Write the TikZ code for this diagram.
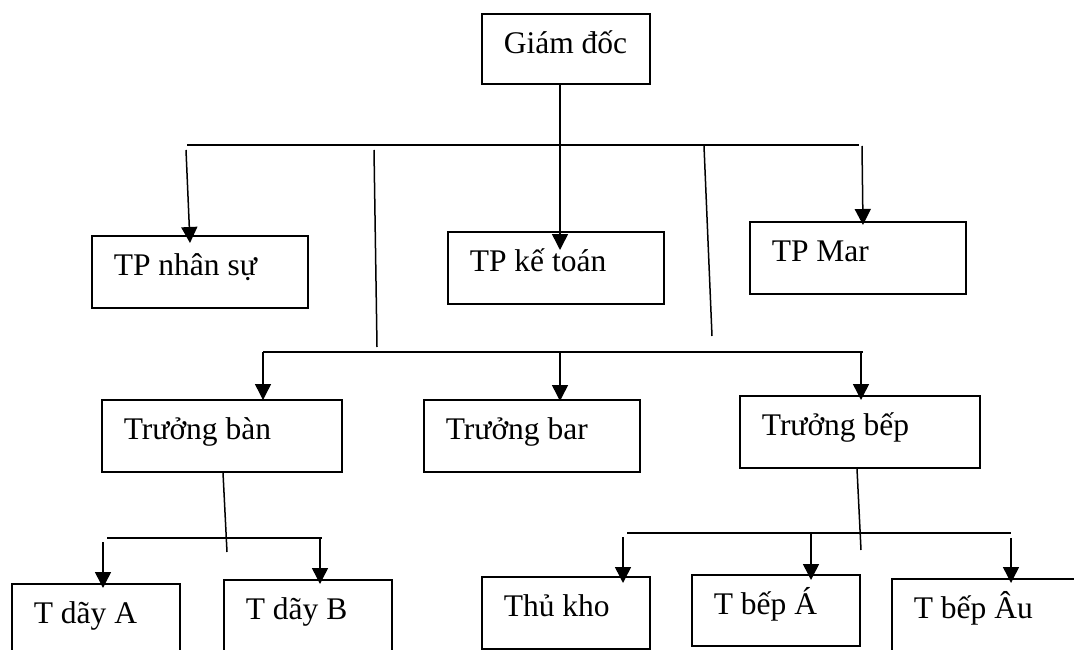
\documentclass[tikz,border=0pt]{standalone}
\usepackage{fontspec}
\setmainfont{Liberation Serif}
\usetikzlibrary{arrows.meta}
\newcommand\boxtxt[2]{\makebox[#1][l]{#2}}
\tikzset{
  box/.style={draw, line width=1.7pt, anchor=north west, inner xsep=22pt, inner ysep=0pt,
    text height=40pt, font=\fontsize{31.5}{37}\selectfont},
  wire/.style={line width=1.5pt},
  arr/.style={line width=1.5pt, -{Triangle[length=16pt,width=16pt]}}
}
\begin{document}
\begin{tikzpicture}[x=1pt,y=-1pt]
\clip (0,0) rectangle (1074,650);
\fill[white] (0,0) rectangle (1074,650);
% boxes
\node[box, text depth=30pt] (gd) at (481,13) {\boxtxt{124pt}{Giám đốc}};
\node[box, text depth=32pt] (ns) at (91,235) {\boxtxt{172pt}{TP nhân sự}};
\node[box, text depth=32pt] (kt) at (447,231) {\boxtxt{172pt}{TP kế toán}};
\node[box, text depth=32pt] (mar) at (749,221) {\boxtxt{172pt}{TP Mar}};
\node[box, text depth=32pt] (tban) at (101,399) {\boxtxt{196pt}{Trưởng bàn}};
\node[box, text depth=32pt] (tbar) at (423,399) {\boxtxt{172pt}{Trưởng bar}};
\node[box, text depth=32pt] (tbep) at (739,395) {\boxtxt{196pt}{Trưởng bếp}};
\node[box, text depth=60pt] (da) at (11,583) {\boxtxt{124pt}{T dãy A}};
\node[box, text depth=60pt] (db) at (223,579) {\boxtxt{124pt}{T dãy B}};
\node[box, text depth=32pt] (tk) at (481,576) {\boxtxt{124pt}{Thủ kho}};
\node[box, text depth=31pt] (ba) at (691,574) {\boxtxt{124pt}{T bếp Á}};
\node[box, text depth=60pt] (bau) at (891,578) {\boxtxt{176pt}{T bếp Âu}};
% coordinates
\coordinate (b1l) at (187,145);
\coordinate (b1r) at (859,145);
\coordinate (ktip) at (560,250);
\coordinate (nstop) at (186,150);
\coordinate (nstip) at (190,243);
\coordinate (martop) at (862,146);
\coordinate (martip) at (863,225);
\coordinate (v1t) at (374,150);
\coordinate (v1b) at (377,347);
\coordinate (v2t) at (704,146);
\coordinate (v2b) at (712,336);
\coordinate (b2l) at (263,352);
\coordinate (b2m) at (560,352);
\coordinate (b2r) at (863,352);
\coordinate (t1) at (263,400);
\coordinate (t2) at (560,401);
\coordinate (t3) at (861,400);
\coordinate (tbanb) at (227,552);
\coordinate (b3l) at (107,538);
\coordinate (b3r) at (322,538);
\coordinate (datop) at (103,542);
\coordinate (datip) at (103,588);
\coordinate (dbtip) at (320,584);
\coordinate (tbepb) at (861,550);
\coordinate (b4l) at (627,533);
\coordinate (b4r) at (1011,533);
\coordinate (tktop) at (623,537);
\coordinate (tktip) at (623,583);
\coordinate (batop) at (811,533);
\coordinate (batip) at (811,580);
\coordinate (bautop) at (1011,538);
\coordinate (bautip) at (1011,583);
% connectors
\draw[wire] (b1l) -- (b1r);
\draw[arr] (gd.south -| ktip) -- (ktip);
\draw[arr] (nstop) -- (nstip);
\draw[arr] (martop) -- (martip);
\draw[wire] (v1t) -- (v1b);
\draw[wire] (v2t) -- (v2b);
\draw[wire] (b2l) -- (b2r);
\draw[arr] (b2l) -- (t1);
\draw[arr] (b2m) -- (t2);
\draw[arr] (b2r -| t3) -- (t3);
\draw[wire] (tban.south -| 223,0) -- (tbanb);
\draw[wire] (b3l) -- (b3r);
\draw[arr] (datop) -- (datip);
\draw[arr] (b3r -| dbtip) -- (dbtip);
\draw[wire] (tbep.south -| 857,0) -- (tbepb);
\draw[wire] (b4l) -- (b4r);
\draw[arr] (tktop) -- (tktip);
\draw[arr] (batop) -- (batip);
\draw[arr] (bautop) -- (bautip);
\end{tikzpicture}
\end{document}
